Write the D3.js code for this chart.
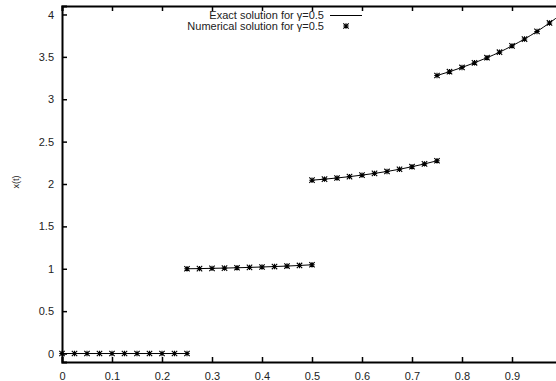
<!DOCTYPE html>
<html>
<head>
<meta charset="utf-8">
<script src="https://cdn.jsdelivr.net/npm/d3@7"></script>
<style>
  body { margin: 0; background: #fff; }
  svg { display: block; font-family: "Liberation Sans", Arial, sans-serif; }
</style>
</head>
<body>
<svg></svg>
<script>
var width = 556,
    height = 381;

// data: each piece starts at segStart and is sampled at segStart + offset
var segStarts = [0, 0.25, 0.5, 0.75];
var offsets = [0, 0.025, 0.05, 0.075, 0.1, 0.125, 0.15, 0.175, 0.2, 0.225, 0.25];
var seg1 = [0, 0, 0, 0, 0, 0, 0, 0, 0, 0, 0];
var seg2 = [1.0, 1.002, 1.005, 1.008, 1.012, 1.016, 1.021, 1.026, 1.032, 1.039, 1.047];
var seg3 = [2.045, 2.057, 2.071, 2.087, 2.105, 2.125, 2.148, 2.174, 2.204, 2.237, 2.274];
var seg4 = [3.28, 3.325, 3.375, 3.43, 3.49, 3.555, 3.63, 3.71, 3.8, 3.9, 4.01];
var segValues = [seg1, seg2, seg3, seg4];
var xTicks = [0, 0.1, 0.2, 0.3, 0.4, 0.5, 0.6, 0.7, 0.8, 0.9, 1.0];
var yTicks = [0, 0.5, 1, 1.5, 2, 2.5, 3, 3.5, 4];
var legendLabels = ["Exact solution for \u03b3=0.5", "Numerical solution for \u03b3=0.5"];

var svg = d3.select("svg")
    .attr("width", width)
    .attr("height", height);

var x = d3.scaleLinear().domain([0, 1]).range([62, 562]);
var y = d3.scaleLinear().domain([-0.1, 4.1]).range([362, 6]);

var segments = segValues.map(function(vals, k) {
    return vals.map(function(v, i) {
        return {t: segStarts[k] + offsets[i], v: v};
    });
});

////////////////////////
// Axes
////////////////////////

var xAxis = svg.append("g")
    .attr("transform", "translate(0," + y(-0.1) + ")")
    .call(d3.axisBottom(x).tickValues(xTicks).tickSize(-5).tickPadding(10)
        .tickFormat(function(d) { return d >= 1 ? "" : d3.format("")(d); }));

var xTop = svg.append("g")
    .attr("transform", "translate(0," + y(4.1) + ")")
    .call(d3.axisTop(x).tickValues(xTicks).tickSize(-5).tickFormat(""));

var yAxis = svg.append("g")
    .attr("transform", "translate(" + x(0) + ",0)")
    .call(d3.axisLeft(y).tickValues(yTicks).tickSize(-5).tickPadding(8)
        .tickFormat(d3.format("")));

[xAxis, xTop, yAxis].forEach(function(g) {
    g.select(".domain").attr("stroke", "#000").attr("stroke-width", 2);
    g.selectAll(".tick line").attr("stroke", "#000").attr("stroke-width", 1.5);
    g.selectAll(".tick text")
        .attr("fill", "#222")
        .style("font-size", "11px")
        .style("font-family", "Liberation Sans, Arial, sans-serif");
});

svg.append("text")
    .attr("transform", "translate(19,182) rotate(-90)")
    .attr("text-anchor", "middle")
    .style("font-size", "9px")
    .attr("fill", "#222")
    .text("x(t)");

////////////////////////
// Exact solution lines
////////////////////////

var line = d3.line()
    .x(function(d) { return x(d.t); })
    .y(function(d) { return y(d.v); })
    .curve(d3.curveMonotoneX);

svg.selectAll(".exact")
    .data(segments)
    .enter()
    .append("path")
    .attr("d", line)
    .attr("fill", "none")
    .attr("stroke", "#000")
    .attr("stroke-width", 1);

////////////////////////
// Numerical points (asterisks)
////////////////////////

function star(sel, s) {
    sel.append("path")
        .attr("d", "M" + (-s) + ",0H" + s + "M0," + (-s) + "V" + s +
            "M" + (-s) + "," + (-s) + "L" + s + "," + s +
            "M" + (-s) + "," + s + "L" + s + "," + (-s))
        .attr("stroke", "#000")
        .attr("stroke-width", 1.1)
        .attr("fill", "none");
}

var allPoints = d3.merge(segments);
svg.selectAll(".pt")
    .data(allPoints)
    .enter()
    .append("g")
    .attr("transform", function(d) { return "translate(" + x(d.t) + "," + y(d.v) + ")"; })
    .each(function() { star(d3.select(this), 2.7); });

////////////////////////
// Legend
////////////////////////

var legend = svg.append("g");
legend.selectAll("text")
    .data(legendLabels)
    .enter()
    .append("text")
    .attr("x", 324)
    .attr("y", function(d, i) { return 19 + i * 11; })
    .attr("text-anchor", "end")
    .attr("fill", "#222")
    .style("font-size", "11px")
    .text(function(d) { return d; });

legend.append("line")
    .attr("x1", 330).attr("x2", 362)
    .attr("y1", 15.5).attr("y2", 15.5)
    .attr("stroke", "#000")
    .attr("stroke-width", 1);

legend.append("g")
    .attr("transform", "translate(346,26)")
    .call(star, 2.7);
</script>
</body>
</html>
